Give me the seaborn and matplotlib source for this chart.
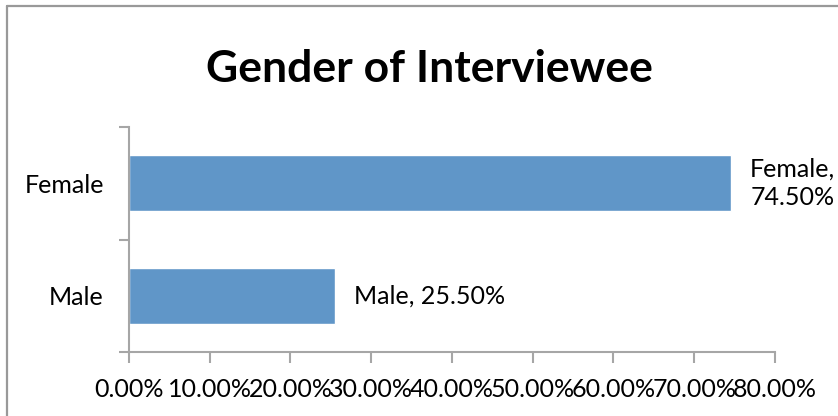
import pandas as pd
import matplotlib.pyplot as plt
import seaborn as sns
from matplotlib.lines import Line2D
from matplotlib.ticker import FuncFormatter

# Data
categories = ['Female', 'Male']
shares = [74.5, 25.5]
labels = ['Female,\n74.50%', 'Male, 25.50%']

df = pd.DataFrame({'Gender': categories, 'Share': shares})

sns.set_theme(style='white')
plt.rcParams['font.family'] = ['Lato', 'DejaVu Sans']

fig = plt.figure(figsize=(8.38, 4.16), dpi=100)
ax = fig.add_axes([0.1539, 0.1538, 0.7709, 0.5409])

sns.barplot(data=df, x='Share', y='Gender', order=categories, color='#6096C8',
            saturation=1, width=0.5, ax=ax)

ax.set_xlim(0, 80)
ax.set_ylim(1.5, -0.5)
ax.set_xticks(range(0, 81, 10))
ax.xaxis.set_major_formatter(FuncFormatter(lambda v, p: f'{v:.2f}%'))
ax.set_yticks([-0.5, 0.5, 1.5])
ax.set_yticklabels([])
ax.set_yticks([0, 1], minor=True)
ax.set_yticklabels(categories, minor=True)
ax.set_xlabel('')
ax.set_ylabel('')

axis_col = '#A6A6A6'
fs = 18
for side in ['top', 'right']:
    ax.spines[side].set_visible(False)
for side in ['left', 'bottom']:
    ax.spines[side].set_color(axis_col)
    ax.spines[side].set_linewidth(1.5)

ax.tick_params(axis='x', which='major', direction='out', length=8, width=1.5,
               color=axis_col, labelsize=fs, labelcolor='black', pad=11, bottom=True)
ax.tick_params(axis='y', which='major', direction='out', length=7, width=1.5,
               color=axis_col, left=True)
ax.tick_params(axis='y', which='minor', length=0, labelsize=fs, labelcolor='black', pad=18)

# Data labels
for i, (v, lab) in enumerate(zip(shares, labels)):
    ax.annotate(lab, xy=(v, i), xytext=(14, 0), textcoords='offset points',
                ha='left', va='center', multialignment='center',
                fontsize=fs, color='black', linespacing=1.3, annotation_clip=False)

fig.suptitle('Gender of Interviewee', x=0.512, y=0.835, fontsize=32,
             fontweight='bold', color='black', va='center')

# chart area border (top and left visible)
fig.add_artist(Line2D([0.0078, 0.0078], [0, 0.985], transform=fig.transFigure,
                      color='#999999', linewidth=1.6))
fig.add_artist(Line2D([0.0078, 1.0], [0.985, 0.985], transform=fig.transFigure,
                      color='#999999', linewidth=1.6))

fig.savefig('out.png', dpi=100)
